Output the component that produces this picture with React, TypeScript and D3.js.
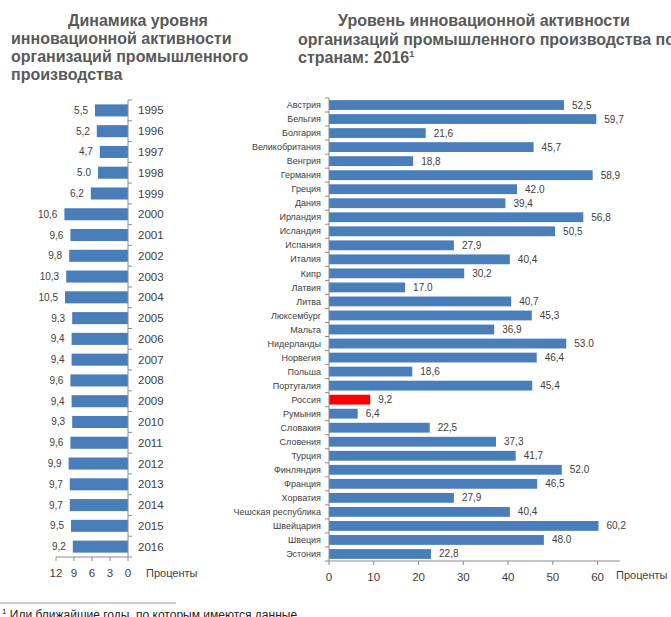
import React from "react";
import * as d3 from "d3";

const years = ["1995","1996","1997","1998","1999","2000","2001","2002","2003","2004","2005","2006","2007","2008","2009","2010","2011","2012","2013","2014","2015","2016"];
const yearValues = [5.5,5.2,4.7,5.0,6.2,10.6,9.6,9.8,10.3,10.5,9.3,9.4,9.4,9.6,9.4,9.3,9.6,9.9,9.7,9.7,9.5,9.2];
const yearLabels = ["5,5","5,2","4,7","5.0","6,2","10,6","9,6","9,8","10,3","10,5","9,3","9,4","9,4","9,6","9,4","9,3","9,6","9,9","9,7","9,7","9,5","9,2"];
const leftTicks = [0,3,6,9,12];

const countries = ["Австрия","Бельгия","Болгария","Великобритания","Венгрия","Германия","Греция","Дания","Ирландия","Исландия","Испания","Италия","Кипр","Латвия","Литва","Люксембург","Мальта","Нидерланды","Норвегия","Польша","Португалия","Россия","Румыния","Словакия","Словения","Турция","Финляндия","Франция","Хорватия","Чешская республика","Швейцария","Швеция","Эстония"];
const countryValues = [52.5,59.7,21.6,45.7,18.8,58.9,42.0,39.4,56.8,50.5,27.9,40.4,30.2,17.0,40.7,45.3,36.9,53.0,46.4,18.6,45.4,9.2,6.4,22.5,37.3,41.7,52.0,46.5,27.9,40.4,60.2,48.0,22.8];
const countryLabels = ["52,5","59,7","21,6","45,7","18,8","58,9","42.0","39,4","56,8","50,5","27,9","40,4","30,2","17.0","40,7","45,3","36,9","53.0","46,4","18,6","45,4","9,2","6,4","22,5","37,3","41,7","52.0","46,5","27,9","40,4","60,2","48.0","22,8"];
const rightTicks = [0,10,20,30,40,50,60];
const highlighted = "Россия";

const BLUE = "#4a7ebb";
const RED = "#ff0000";
const TXT = "#404040";
const AX = "#8c8c8c";
const TITLE = "#595959";
const FONT = "'Liberation Sans', Arial, sans-serif";

export default function App() {
  // left chart
  const lx = d3.scaleLinear().domain([0, 12]).range([128, 56]);
  const ly = d3.scaleBand<string>().domain(years).range([100, 557]).paddingInner(0.42).paddingOuter(0.21);
  const lStep = ly.step();

  // right chart
  const rx = d3.scaleLinear().domain([0, 65]).range([329, 620]);
  const ry = d3.scaleBand<string>().domain(countries).range([98, 561]).paddingInner(0.3).paddingOuter(0.15);
  const rStep = ry.step();

  return (
    <svg width={671} height={617} style={{ position: "absolute", left: 0, top: 0, background: "#fff" }} fontFamily={FONT}>
      {/* Titles */}
      <g fontWeight="bold" fontSize={16} fill={TITLE}>
        <text x={138} y={26} textAnchor="middle">Динамика уровня</text>
        <text x={11} y={44}>инновационной активности</text>
        <text x={11} y={62}>организаций промышленного</text>
        <text x={11} y={80}>производства</text>
        <text x={484} y={26} textAnchor="middle">Уровень инновационной активности</text>
        <text x={298} y={45}>организаций промышленного производства по</text>
        <text x={298} y={63}>странам: 2016<tspan fontSize={9} dy={-6}>1</tspan></text>
      </g>

      {/* Left chart bars */}
      {years.map((yr, i) => (
        <g key={yr}>
          <rect x={lx(yearValues[i])} y={ly(yr)!} width={lx(0) - lx(yearValues[i])} height={ly.bandwidth()} fill={BLUE} />
          <text x={lx(yearValues[i]) - 7} y={ly(yr)! + ly.bandwidth() / 2} dy="0.35em" textAnchor="end" fontSize={10} fill={TXT}>{yearLabels[i]}</text>
          <text x={138} y={ly(yr)! + ly.bandwidth() / 2} dy="0.35em" fontSize={11.5} fill={TXT}>{yr}</text>
        </g>
      ))}
      {/* left vertical axis */}
      <line x1={128} x2={128} y1={100} y2={557} stroke={AX} />
      {d3.range(years.length + 1).map((k) => (
        <line key={k} x1={128} x2={132} y1={100 + k * lStep} y2={100 + k * lStep} stroke={AX} />
      ))}
      {/* left horizontal axis */}
      <line x1={lx(12)} x2={lx(0)} y1={557} y2={557} stroke={AX} />
      {leftTicks.map((t) => (
        <g key={t}>
          <line x1={lx(t)} x2={lx(t)} y1={557} y2={561} stroke={AX} />
          <text x={lx(t)} y={573} dy="0.35em" textAnchor="middle" fontSize={11.5} fill={TXT}>{t}</text>
        </g>
      ))}
      <text x={146} y={573} dy="0.35em" fontSize={11} fill={TXT}>Проценты</text>

      {/* Right chart bars */}
      {countries.map((c, i) => (
        <g key={c}>
          <rect x={rx(0)} y={ry(c)!} width={rx(countryValues[i]) - rx(0)} height={ry.bandwidth()} fill={c === highlighted ? RED : BLUE} />
          <text x={rx(countryValues[i]) + 8} y={ry(c)! + ry.bandwidth() / 2} dy="0.35em" fontSize={10} fill={TXT}>{countryLabels[i]}</text>
          <text x={321} y={ry(c)! + ry.bandwidth() / 2} dy="0.35em" textAnchor="end" fontSize={9} fill={TXT}>{c}</text>
        </g>
      ))}
      <line x1={329} x2={329} y1={98} y2={561} stroke={AX} />
      {d3.range(countries.length + 1).map((k) => (
        <line key={k} x1={325} x2={329} y1={98 + k * rStep} y2={98 + k * rStep} stroke={AX} />
      ))}
      <line x1={rx(0)} x2={rx(65)} y1={561} y2={561} stroke={AX} />
      {rightTicks.map((t) => (
        <g key={t}>
          <line x1={rx(t)} x2={rx(t)} y1={561} y2={565} stroke={AX} />
          <text x={rx(t)} y={577} dy="0.35em" textAnchor="middle" fontSize={11.5} fill={TXT}>{t}</text>
        </g>
      ))}
      <text x={616} y={575} dy="0.35em" fontSize={11} fill={TXT}>Проценты</text>

      {/* Footnote */}
      <line x1={0} x2={176} y1={603} y2={603} stroke="#999" />
      <text x={2} y={619} fontSize={12} fill="#222"><tspan fontSize={8} dy={-5}>1</tspan><tspan dy={5}> Или ближайшие годы, по которым имеются данные</tspan></text>
    </svg>
  );
}
